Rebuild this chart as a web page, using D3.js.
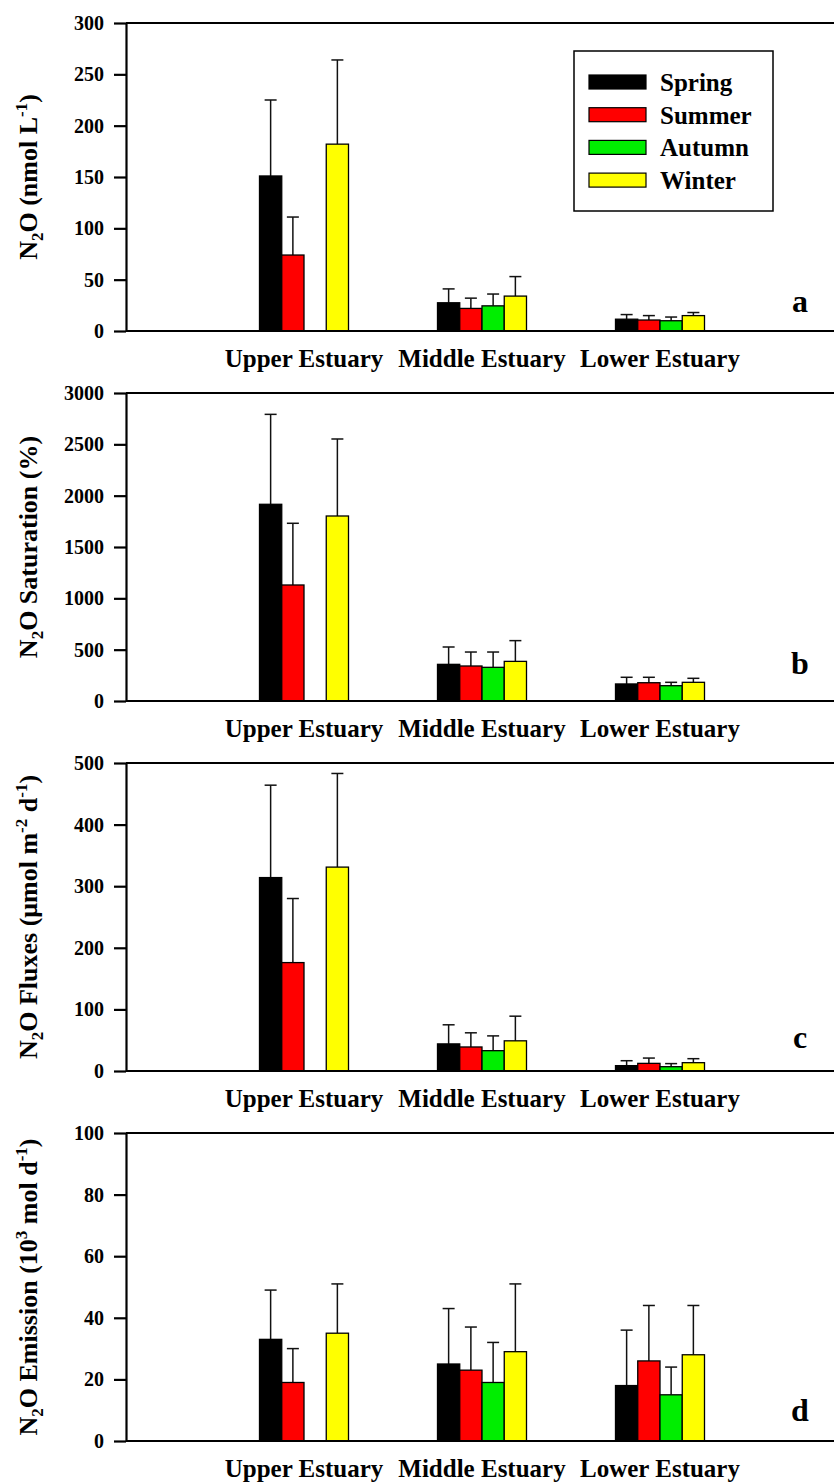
<!DOCTYPE html>
<html>
<head>
<meta charset="utf-8">
<script src="https://cdn.jsdelivr.net/npm/d3@7"></script>
<style>
  body { margin: 0; background: #fff; }
  svg { display: block; }
</style>
</head>
<body>
<div id="chart"></div>
<script>
const regions = ['Upper Estuary', 'Middle Estuary', 'Lower Estuary'];
const seasons = ['Spring', 'Summer', 'Autumn', 'Winter'];
const seasonColors = ['#000000', '#ff0000', '#00ee00', '#ffff00'];

// a: dissolved N2O (nmol/L), rows = regions, cols = seasons
const concMean = [[151, 74, null, 182], [27.5, 22, 24.5, 34], [11.5, 10.7, 10, 15]];
const concSd = [[74, 37, null, 82], [13.5, 10, 11.5, 19], [4.5, 4.3, 3.6, 3]];
const concTicks = [0, 50, 100, 150, 200, 250, 300];

// b: saturation (%)
const satMean = [[1916, 1130, null, 1802], [357, 341, 328, 386], [166, 178, 149, 182]];
const satSd = [[876, 601, null, 750], [169, 136, 149, 202], [65, 53, 33, 39]];
const satTicks = [0, 500, 1000, 1500, 2000, 2500, 3000];

// c: fluxes (umol m-2 d-1)
const fluxMean = [[314, 176, null, 331], [44, 39, 33, 49], [8.7, 12.4, 7, 13.5]];
const fluxSd = [[150, 104, null, 152], [31, 23, 24, 40], [8, 8.6, 5, 6.5]];
const fluxTicks = [0, 100, 200, 300, 400, 500];

// d: emission (10^3 mol d-1)
const emisMean = [[33, 19, null, 35], [25, 23, 19, 29], [18, 26, 15, 28]];
const emisSd = [[16, 11, null, 16], [18, 14, 13, 22], [18, 18, 9, 16]];
const emisTicks = [0, 20, 40, 60, 80, 100];

const width = 834;
const height = 1483;
const panelH = 308;
const left = 126;
const right = 838;
const serif = '"Liberation Serif", "Times New Roman", serif';

// label pieces: [text, 'sub' | 'sup' | null]
const panels = [
  { mean: concMean, sd: concSd, ticks: concTicks, top: 23, letter: 'a', letterDy: -19, legend: true,
    label: [['N'], ['2', 'sub'], ['O (nmol L'], ['-1', 'sup'], [')']] },
  { mean: satMean, sd: satSd, ticks: satTicks, top: 393, letter: 'b', letterDy: -27,
    label: [['N'], ['2', 'sub'], ['O Saturation (%)']] },
  { mean: fluxMean, sd: fluxSd, ticks: fluxTicks, top: 763, letter: 'c', letterDy: -23,
    label: [['N'], ['2', 'sub'], ['O Fluxes (\u03bcmol m'], ['-2', 'sup'], [' d'], ['-1', 'sup'], [')']] },
  { mean: emisMean, sd: emisSd, ticks: emisTicks, top: 1133, letter: 'd', letterDy: -20,
    label: [['N'], ['2', 'sub'], ['O Emission (10'], ['3', 'sup'], [' mol d'], ['-1', 'sup'], [')']] },
];

const svg = d3.select('#chart').append('svg')
  .attr('width', width)
  .attr('height', height)
  .attr('font-family', serif)
  .attr('font-weight', 'bold');

const x = d3.scaleLinear().domain([0, 4]).range([left, right]);
const xInner = d3.scaleBand().domain(seasons).range([-44.5, 44.5]).padding(0);
const color = d3.scaleOrdinal().domain(seasons).range(seasonColors);

panels.forEach((p) => {
  const bottom = p.top + panelH;
  const y = d3.scaleLinear()
    .domain([0, p.ticks[p.ticks.length - 1]])
    .range([bottom, p.top]);

  const g = svg.append('g');

  // flatten into bar records
  const bars = [];
  regions.forEach((r, i) => {
    seasons.forEach((s, j) => {
      const v = p.mean[i][j];
      if (v !== null) bars.push({ region: i + 1, season: s, value: v, sd: p.sd[i][j] });
    });
  });
  const cx = (d) => x(d.region) + xInner(d.season) + xInner.bandwidth() / 2;

  // error bars (upper only), drawn before bars
  const err = g.append('g').attr('stroke', '#111').attr('stroke-width', 1.5);
  err.selectAll('line.stem')
    .data(bars)
    .join('line')
    .attr('class', 'stem')
    .attr('x1', cx)
    .attr('x2', cx)
    .attr('y1', (d) => y(d.value))
    .attr('y2', (d) => y(d.value + d.sd));
  err.selectAll('line.cap')
    .data(bars)
    .join('line')
    .attr('class', 'cap')
    .attr('x1', (d) => cx(d) - 6)
    .attr('x2', (d) => cx(d) + 6)
    .attr('y1', (d) => y(d.value + d.sd))
    .attr('y2', (d) => y(d.value + d.sd));

  g.append('g')
    .selectAll('rect')
    .data(bars)
    .join('rect')
    .attr('x', (d) => x(d.region) + xInner(d.season))
    .attr('y', (d) => y(d.value))
    .attr('width', xInner.bandwidth())
    .attr('height', (d) => bottom - y(d.value))
    .attr('fill', (d) => color(d.season))
    .attr('stroke', '#000')
    .attr('stroke-width', 1.3);

  // frame: top and bottom lines
  g.append('line')
    .attr('x1', left).attr('x2', right)
    .attr('y1', p.top).attr('y2', p.top)
    .attr('stroke', '#000').attr('stroke-width', 2.2);
  g.append('line')
    .attr('x1', left).attr('x2', right)
    .attr('y1', bottom).attr('y2', bottom)
    .attr('stroke', '#000').attr('stroke-width', 2.2);

  // y axis
  const axis = g.append('g')
    .attr('transform', `translate(${left},0)`)
    .call(d3.axisLeft(y).tickValues(p.ticks).tickFormat(d3.format('d'))
      .tickSize(12).tickSizeOuter(0).tickPadding(10));
  axis.attr('font-family', serif).attr('font-size', 20).attr('font-weight', 'bold');
  axis.select('.domain').attr('stroke-width', 2.2);
  axis.selectAll('.tick line').attr('stroke-width', 2.2);

  // category labels
  g.append('g')
    .selectAll('text')
    .data(regions)
    .join('text')
    .attr('x', (d, i) => x(i + 1))
    .attr('y', bottom + 36)
    .attr('text-anchor', 'middle')
    .attr('font-size', 25)
    .text((d) => d);

  // panel letter
  g.append('text')
    .attr('x', 800)
    .attr('y', bottom + p.letterDy)
    .attr('text-anchor', 'middle')
    .attr('font-size', 32)
    .text(p.letter);

  // y label with sub/superscripts
  const lab = g.append('text')
    .attr('transform', `translate(37,${(p.top + bottom) / 2}) rotate(-90)`)
    .attr('text-anchor', 'middle')
    .attr('font-size', 26);
  let shift = 0;
  p.label.forEach(([t, kind]) => {
    const ts = lab.append('tspan').text(t);
    let target = 0;
    if (kind === 'sub') { target = 6; ts.attr('font-size', 17); }
    if (kind === 'sup') { target = -10; ts.attr('font-size', 17); }
    ts.attr('dy', target - shift);
    shift = target;
  });

  if (p.legend) {
    const lg = g.append('g');
    lg.append('rect')
      .attr('x', 574).attr('y', 51)
      .attr('width', 199).attr('height', 160)
      .attr('fill', '#fff')
      .attr('stroke', '#000')
      .attr('stroke-width', 1.5);
    seasons.forEach((s, i) => {
      const cy = 82 + i * 32.7;
      lg.append('rect')
        .attr('x', 589).attr('y', cy - 7)
        .attr('width', 57).attr('height', 14)
        .attr('fill', color(s))
        .attr('stroke', '#000')
        .attr('stroke-width', 1.2);
      lg.append('text')
        .attr('x', 660)
        .attr('y', cy + 9)
        .attr('font-size', 25)
        .text(s);
    });
  }
});
</script>
</body>
</html>
